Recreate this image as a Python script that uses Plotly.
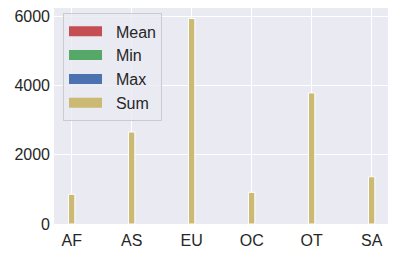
import plotly.graph_objects as go

categories = ["AF", "AS", "EU", "OC", "OT", "SA"]
mean_vals = [5, 6, 7, 5, 6, 5]
min_vals = [1, 1, 1, 1, 1, 1]
max_vals = [12, 15, 18, 12, 14, 13]
sum_vals = [860, 2660, 5940, 915, 3790, 1365]

series = [
    ("Mean", mean_vals, "#C44E52"),
    ("Min", min_vals, "#55A868"),
    ("Max", max_vals, "#4C72B0"),
    ("Sum", sum_vals, "#CCB974"),
]

fig = go.Figure()
for name, vals, color in series:
    fig.add_trace(go.Bar(
        x=list(range(len(categories))), y=vals, name=name,
        marker=dict(color=color, line=dict(color="white", width=1)),
        width=0.105, legendgroup=name, showlegend=False,
    ))
# legend entries drawn as wide patches
for name, vals, color in series:
    fig.add_trace(go.Scatter(
        x=[None], y=[None], mode="lines", name="\u00a0\u00a0" + name, legendgroup=name,
        line=dict(color=color, width=11),
    ))

font_family = "Liberation Sans, Arial, DejaVu Sans, sans-serif"
fig.update_layout(
    width=395, height=256,
    margin=dict(l=54, r=7, t=8, b=32),
    barmode="overlay",
    paper_bgcolor="white",
    plot_bgcolor="#EAEAF2",
    font=dict(family=font_family, size=16, color="#262626"),
    showlegend=True,
    legend=dict(
        x=0.027, y=0.975, xanchor="left", yanchor="top",
        bgcolor="rgba(234,234,242,0.8)", bordercolor="#CCCCCC", borderwidth=1,
        font=dict(size=16), itemwidth=33, tracegroupgap=0,
    ),
    xaxis=dict(
        tickmode="array", tickvals=list(range(len(categories))), ticktext=categories,
        range=[-0.295, 5.272], showgrid=True, gridcolor="white", gridwidth=1,
        zeroline=False, showline=False, ticks="", ticklen=0, ticklabelstandoff=5,
    ),
    yaxis=dict(
        range=[0, 6245], tickvals=[0, 2000, 4000, 6000],
        showgrid=True, gridcolor="white", gridwidth=1,
        zeroline=False, showline=False, ticks="", ticklabelstandoff=3,
    ),
)
fig.write_html("out.html")
